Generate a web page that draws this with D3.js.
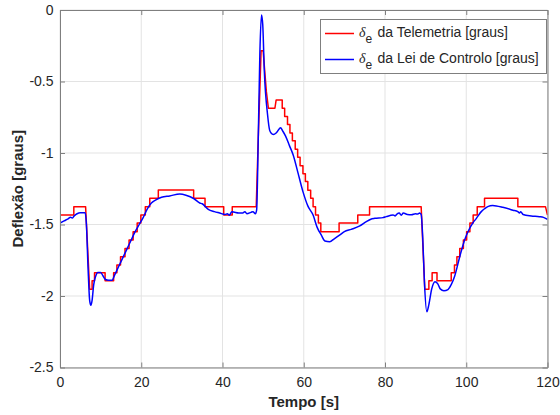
<!DOCTYPE html>
<html>
<head>
<meta charset="utf-8">
<script src="https://cdn.jsdelivr.net/npm/d3@7"></script>
<style>
  html, body { margin: 0; padding: 0; background: #ffffff; }
  svg { display: block; }
  text { font-family: "Liberation Sans", Arial, Helvetica, sans-serif; }
</style>
</head>
<body>
<svg id="chart" width="560" height="415"></svg>
<script>
// ---- data ----
const xTicks = [0, 20, 40, 60, 80, 100, 120];
const xTickLabels = ["0", "20", "40", "60", "80", "100", "120"];
const yTicks = [0, -0.5, -1, -1.5, -2, -2.5];
const yTickLabels = ["0", "-0.5", "-1", "-1.5", "-2", "-2.5"];
const xLabel = "Tempo [s]";
const yLabel = "Deflexão [graus]";
const seriesNames = ["da Telemetria [graus]", "da Lei de Controlo [graus]"];

// delta_e from telemetry (quantized, step-like), [time, value]
const telemetria = [
  [0,-1.434],[3.4,-1.434],[3.4,-1.375],[6.3,-1.375],[7.3,-1.953],[7.9,-1.953],[7.9,-1.893],[8.5,-1.893],
  [8.5,-1.837],[11.1,-1.837],[11.1,-1.893],[13.2,-1.893],[13.2,-1.837],[14.0,-1.837],[14.0,-1.783],[14.9,-1.783],
  [14.9,-1.725],[16.0,-1.725],[16.0,-1.667],[17.0,-1.667],[17.0,-1.608],[18.0,-1.608],[18.0,-1.55],[19.0,-1.55],
  [19.0,-1.49],[19.9,-1.49],[19.9,-1.434],[21.0,-1.434],[21.0,-1.375],[22.1,-1.375],[22.1,-1.317],[24.2,-1.317],
  [24.2,-1.259],[32.9,-1.259],[32.9,-1.317],[35.7,-1.317],[35.7,-1.375],[40.3,-1.375],[40.3,-1.434],[42.4,-1.434],
  [42.4,-1.375],[48.3,-1.375],[48.8,-0.9],[49.5,-0.285],[50.0,-0.285],[50.8,-0.571],[51.3,-0.687],[52.9,-0.687],
  [53.2,-0.63],[54.7,-0.63],[54.7,-0.687],[55.3,-0.687],[55.3,-0.745],[56.0,-0.745],[56.0,-0.80],[56.6,-0.80],
  [56.6,-0.86],[57.2,-0.86],[57.2,-0.915],[57.9,-0.915],[57.9,-0.973],[58.5,-0.973],[58.5,-1.03],[59.1,-1.03],
  [59.1,-1.09],[59.8,-1.09],[59.8,-1.145],[60.4,-1.145],[60.4,-1.20],[61.0,-1.20],[61.0,-1.26],[61.7,-1.26],
  [61.7,-1.317],[62.3,-1.317],[62.3,-1.375],[62.9,-1.375],[62.9,-1.434],[63.6,-1.434],[63.6,-1.49],[64.2,-1.49],
  [64.2,-1.55],[68.7,-1.55],[68.7,-1.49],[73.3,-1.49],[73.3,-1.434],[76.2,-1.434],[76.2,-1.375],[88.9,-1.375],
  [89.8,-1.953],[90.8,-1.953],[90.8,-1.893],[91.6,-1.893],[91.6,-1.837],[92.8,-1.837],[92.8,-1.893],[96.3,-1.893],
  [96.3,-1.837],[97.1,-1.837],[97.1,-1.783],[97.7,-1.783],[97.7,-1.725],[98.4,-1.725],[98.4,-1.667],[99.3,-1.667],
  [99.3,-1.608],[100.1,-1.608],[100.1,-1.55],[100.9,-1.55],[100.9,-1.49],[101.7,-1.49],[101.7,-1.434],[102.7,-1.434],
  [102.7,-1.375],[104.5,-1.375],[104.5,-1.317],[112.7,-1.317],[112.7,-1.375],[119.5,-1.375],[120,-1.434]
];

// delta_e from control law, [time, value]
const leiControlo = [
  [0,-1.49],[1,-1.475],[2,-1.46],[2.6,-1.45],[3,-1.455],[3.5,-1.44],[4.2,-1.425],[5,-1.418],[6.2,-1.418],
  [6.5,-1.5],[6.9,-1.8],[7.3,-2.03],[7.6,-2.065],[7.9,-2.03],[8.3,-1.92],[8.8,-1.86],[9.3,-1.835],[10,-1.835],
  [10.6,-1.86],[11.2,-1.885],[12,-1.89],[12.8,-1.89],[13.5,-1.85],[14.5,-1.79],[15.5,-1.73],[16.5,-1.67],
  [17.5,-1.61],[18.5,-1.55],[19.5,-1.50],[20.5,-1.45],[21.5,-1.39],[22.5,-1.35],[23.5,-1.33],[25,-1.31],
  [27,-1.30],[29.5,-1.287],[31,-1.295],[33,-1.32],[34.4,-1.35],[35,-1.355],[36.5,-1.394],[38,-1.41],[39.3,-1.42],
  [40.6,-1.43],[41.2,-1.425],[41.7,-1.435],[42.3,-1.41],[43,-1.415],[44,-1.42],[45,-1.42],[45.5,-1.41],[46,-1.425],
  [47,-1.415],[47.5,-1.41],[48.1,-1.425],[48.4,-1.40],[48.8,-0.9],[49.2,-0.3],[49.6,-0.035],[49.9,-0.1],
  [50.3,-0.43],[51.1,-0.734],[51.6,-0.84],[52,-0.862],[52.5,-0.87],[53.2,-0.86],[54.0,-0.83],[54.3,-0.823],
  [54.8,-0.845],[55.5,-0.88],[56.5,-0.95],[57.4,-1.014],[58.5,-1.13],[59.8,-1.27],[61,-1.37],[62.3,-1.434],
  [63.3,-1.52],[64.3,-1.573],[65.2,-1.615],[66.4,-1.62],[67.5,-1.60],[68.9,-1.573],[70,-1.55],[71.7,-1.534],
  [73.8,-1.51],[75.4,-1.48],[76.5,-1.463],[77.5,-1.457],[79.5,-1.452],[80.3,-1.445],[82,-1.434],[82.5,-1.44],
  [83,-1.425],[83.5,-1.42],[84,-1.435],[84.5,-1.42],[85.5,-1.43],[86.5,-1.432],[87.5,-1.425],[88.1,-1.427],
  [88.5,-1.42],[88.9,-1.43],[89.3,-1.6],[89.7,-1.9],[90.3,-2.11],[90.8,-2.06],[91.5,-1.95],[92.3,-1.9],
  [93,-1.915],[93.6,-1.95],[94.5,-1.963],[95.5,-1.955],[96.3,-1.92],[97.1,-1.865],[98.4,-1.725],[99.6,-1.608],
  [100.6,-1.54],[101.6,-1.49],[102.5,-1.457],[103.7,-1.41],[104.5,-1.39],[105.3,-1.375],[106.5,-1.368],
  [107.4,-1.37],[109,-1.38],[111.5,-1.40],[112.7,-1.41],[113.1,-1.42],[113.4,-1.41],[114,-1.43],[116,-1.44],
  [118,-1.445],[119,-1.45],[120,-1.464]
];

// ---- layout ----
const svg = d3.select("#chart");
const mLeft = 60, mRight = 547.5, mTop = 10, mBottom = 367.5;
const axisColor = "#262626";
const boxColor = "#7f7f7f";
const gridColor = "#e3e3e3";

const x = d3.scaleLinear().domain([0, 120]).range([mLeft, mRight]);
const y = d3.scaleLinear().domain([-2.5, 0]).range([mBottom, mTop]);

// grid
const grid = svg.append("g");
grid.selectAll("line.gx").data(xTicks).join("line")
  .attr("x1", d => x(d)).attr("x2", d => x(d))
  .attr("y1", mTop).attr("y2", mBottom)
  .attr("stroke", gridColor).attr("stroke-width", 1);
grid.selectAll("line.gy").data(yTicks).join("line")
  .attr("y1", d => y(d)).attr("y2", d => y(d))
  .attr("x1", mLeft).attr("x2", mRight)
  .attr("stroke", gridColor).attr("stroke-width", 1);

// lines
const clip = svg.append("clipPath").attr("id", "clip").append("rect")
  .attr("x", mLeft).attr("y", mTop).attr("width", mRight - mLeft).attr("height", mBottom - mTop);

const lineStep = d3.line().x(d => x(d[0])).y(d => y(d[1]));
const lineSmooth = d3.line().x(d => x(d[0])).y(d => y(d[1])).curve(d3.curveMonotoneX);

svg.append("path").datum(telemetria)
  .attr("d", lineStep).attr("fill", "none")
  .attr("stroke", "#ff0000").attr("stroke-width", 1.5).attr("stroke-linejoin", "round")
  .attr("clip-path", "url(#clip)");
svg.append("path").datum(leiControlo)
  .attr("d", lineSmooth).attr("fill", "none")
  .attr("stroke", "#0000ff").attr("stroke-width", 1.5).attr("stroke-linejoin", "round")
  .attr("clip-path", "url(#clip)");

// axes
const tickLen = 5;
const fmtX = (d) => xTickLabels[xTicks.indexOf(d)];
const fmtY = (d) => yTickLabels[yTicks.indexOf(d)];

function styleAxis(g) {
  g.select(".domain").attr("stroke", boxColor);
  g.selectAll(".tick line").attr("stroke", boxColor);
  g.selectAll(".tick text").attr("fill", axisColor).style("font-size", "14px")
    .style("font-family", '"Liberation Sans", Arial, sans-serif');
}

svg.append("g").attr("transform", `translate(0,${mBottom})`)
  .call(d3.axisBottom(x).tickValues(xTicks).tickFormat(fmtX).tickSizeInner(-tickLen).tickSizeOuter(0).tickPadding(9.5))
  .call(styleAxis);
svg.append("g").attr("transform", `translate(0,${mTop})`)
  .call(d3.axisTop(x).tickValues(xTicks).tickFormat("").tickSizeInner(-tickLen).tickSizeOuter(0))
  .call(styleAxis);
svg.append("g").attr("transform", `translate(${mLeft},0)`)
  .call(d3.axisLeft(y).tickValues(yTicks).tickFormat(fmtY).tickSizeInner(-tickLen).tickSizeOuter(0).tickPadding(6.5))
  .call(styleAxis);
svg.append("g").attr("transform", `translate(${mRight},0)`)
  .call(d3.axisRight(y).tickValues(yTicks).tickFormat("").tickSizeInner(-tickLen).tickSizeOuter(0))
  .call(styleAxis);

// axis labels
svg.append("text")
  .attr("x", (mLeft + mRight) / 2).attr("y", 406.5)
  .attr("text-anchor", "middle")
  .style("font-size", "15px").style("font-weight", "bold").attr("fill", axisColor)
  .text(xLabel);
svg.append("text")
  .attr("transform", `translate(23,${(mTop + mBottom) / 2}) rotate(-90)`)
  .attr("text-anchor", "middle")
  .style("font-size", "15px").style("font-weight", "bold").attr("fill", axisColor)
  .text(yLabel);

// legend
const lg = svg.append("g");
lg.append("rect").attr("x", 320.5).attr("y", 19.5).attr("width", 226).attr("height", 54)
  .attr("fill", "#ffffff").attr("stroke", boxColor).attr("stroke-width", 1);
const legendColors = ["#ff0000", "#0000ff"];
seriesNames.forEach((name, i) => {
  const yy = 33.5 + i * 26;
  lg.append("line").attr("x1", 325).attr("x2", 354).attr("y1", yy).attr("y2", yy)
    .attr("stroke", legendColors[i]).attr("stroke-width", 1.5);
  const t = lg.append("text").attr("x", 359).attr("y", yy + 3.5)
    .style("font-size", "14px").attr("fill", axisColor);
  t.append("tspan").style("font-family", '"Liberation Serif", "DejaVu Serif", serif')
    .style("font-style", "italic").text("δ");
  t.append("tspan").attr("dy", 6).style("font-size", "12px").text("e");
  t.append("tspan").attr("dy", -6).attr("x", 377.5).text(name);
});
</script>
</body>
</html>
